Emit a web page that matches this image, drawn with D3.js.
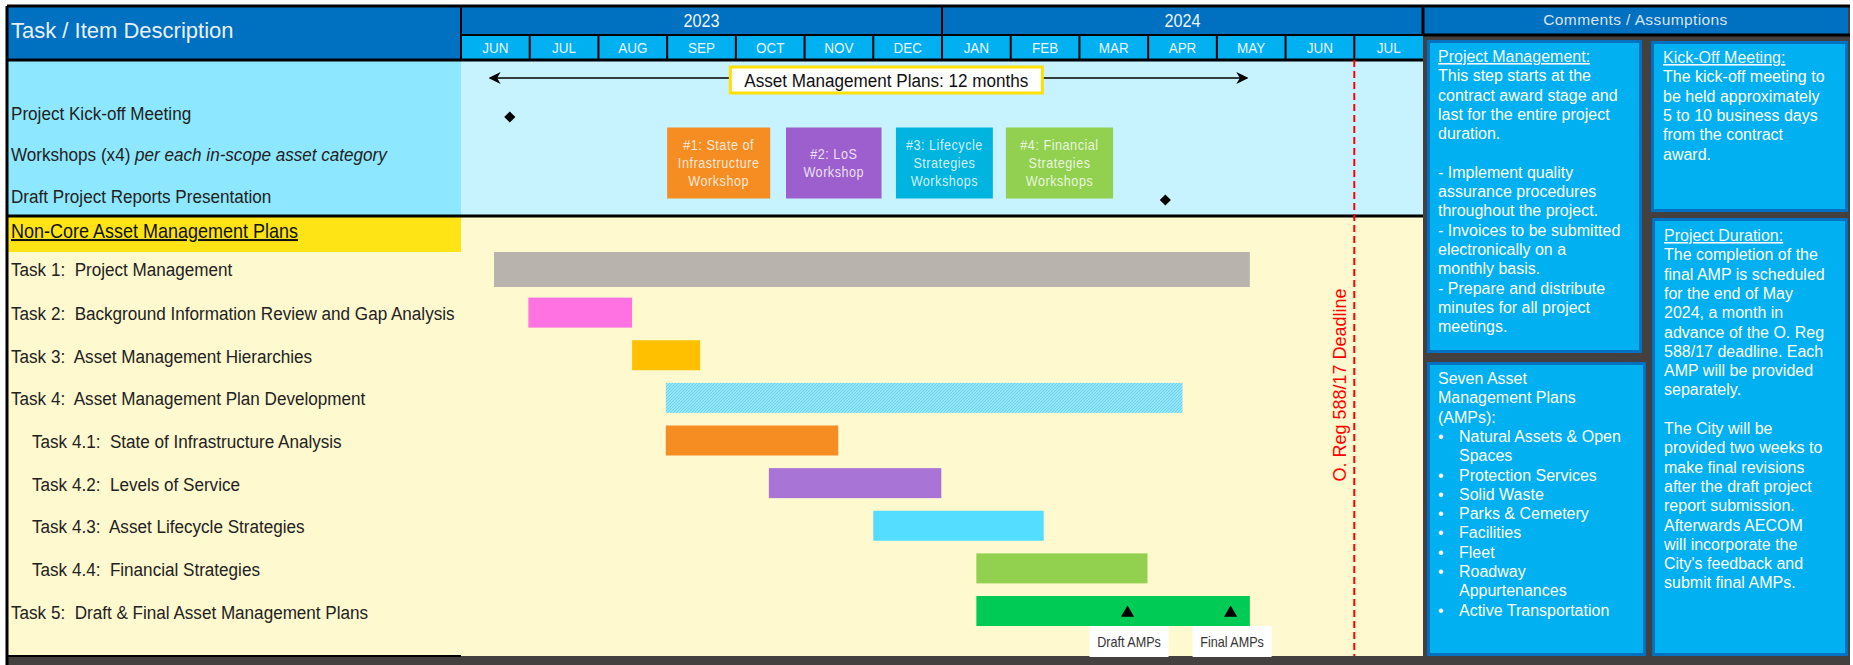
<!DOCTYPE html>
<html>
<head>
<meta charset="utf-8">
<script src="https://cdn.jsdelivr.net/npm/d3@7"></script>
<style>
body { margin: 0; background: #fff; }
svg { display: block; }
</style>
</head>
<body>
<svg id="chart" width="1853" height="665"></svg>
<script>
// months shown on the timeline (Jun 2023 .. Jul 2024)
var months = ["JUN","JUL","AUG","SEP","OCT","NOV","DEC","JAN","FEB","MAR","APR","MAY","JUN","JUL"]
var years = ["2023","2024"]
var yearMonths = [7, 7]

// milestone section (values in months from start of Jun 2023)
var milestoneRows = ["Project Kick-off Meeting", "Workshops (x4)", "Draft Project Reports Presentation"]
var kickoffAt = 0.71
var presentationAt = 10.25
var planStart = 0.42
var planEnd = 11.44
var planLabel = "Asset Management Plans: 12 months"
var workshopLabels = [["#1: State of","Infrastructure","Workshop"], ["#2: LoS","Workshop"], ["#3: Lifecycle","Strategies","Workshops"], ["#4: Financial","Strategies","Workshops"]]
var workshopStart = [3.0, 4.73, 6.33, 7.93]
var workshopEnd = [4.5, 6.12, 7.74, 9.49]
var workshopColors = ["#F68D22", "#9C5FCD", "#00B4E0", "#92D050"]

// tasks
var tasks = ["Task 1:  Project Management",
    "Task 2:  Background Information Review and Gap Analysis",
    "Task 3:  Asset Management Hierarchies",
    "Task 4:  Asset Management Plan Development",
    "Task 4.1:  State of Infrastructure Analysis",
    "Task 4.2:  Levels of Service",
    "Task 4.3:  Asset Lifecycle Strategies",
    "Task 4.4:  Financial Strategies",
    "Task 5:  Draft & Final Asset Management Plans"]
var taskIndent = [0, 0, 0, 0, 1, 1, 1, 1, 0]
var taskStart = [0.48, 0.98, 2.49, 2.98, 2.98, 4.48, 6.0, 7.5, 7.5]
var taskEnd = [11.48, 2.49, 3.48, 10.5, 5.49, 6.99, 8.48, 9.99, 11.48]
var taskColors = ["#B8B3AD", "#FF72E1", "#FFC000", "url(#hatch)", "#F68D22", "#A875D6", "#54DDFF", "#92D050", "#00CC55"]

var deliverables = ["Draft AMPs", "Final AMPs"]
var deliverableAt = [9.7, 11.2]
var deadlineAt = 13.0
var deadlineLabel = "O. Reg 588/17 Deadline"

var sans = "'Liberation Sans', Arial, sans-serif"
var squeeze = 0.9  // no narrow font available, so squash the label text a bit

var svg = d3.select("#chart")
var left = 7, x0 = 461, x1 = 1423, topY = 6
var yearBottom = 35, headBottom = 60, msBottom = 216, secBottom = 252, bottom = 656

var x = d3.scaleLinear().domain([0, months.length]).range([x0, x1])
var mx = d3.scaleBand().domain(d3.range(months.length)).range([x0, x1])
var msY = d3.scalePoint().domain(milestoneRows).range([113, 196])
var ty = d3.scalePoint().domain(tasks).range([270, 611])

// text squashed horizontally around its anchor point
function narrowText(parent, px, py) {
    return parent.append("g").attr("transform", "translate(" + px + "," + py + ") scale(" + squeeze + ",1)")
        .append("text").attr("font-family", sans)
}

var defs = svg.append("defs")
var pat = defs.append("pattern").attr("id", "hatch").attr("width", 3).attr("height", 3).attr("patternUnits", "userSpaceOnUse")
pat.append("rect").attr("width", 3).attr("height", 3).attr("fill", "#ABECFB")
pat.append("path").attr("d", "M-1,1 L1,-1 M0,3 L3,0 M2,4 L4,2").attr("stroke", "#62D2F3").attr("stroke-width", 1.1)

// ---- backgrounds
svg.append("rect").attr("x", left).attr("y", topY).attr("width", x0 - left).attr("height", headBottom - topY).attr("fill", "#0070C0")
svg.append("rect").attr("x", x0).attr("y", topY).attr("width", x1 - x0).attr("height", yearBottom - topY).attr("fill", "#0070C0")
svg.append("rect").attr("x", x0).attr("y", yearBottom).attr("width", x1 - x0).attr("height", headBottom - yearBottom).attr("fill", "#00B0F0")
svg.append("rect").attr("x", left).attr("y", headBottom).attr("width", x0 - left).attr("height", msBottom - headBottom).attr("fill", "#8DE8FF")
svg.append("rect").attr("x", x0).attr("y", headBottom).attr("width", x1 - x0).attr("height", msBottom - headBottom).attr("fill", "#C7F2FF")
svg.append("rect").attr("x", left).attr("y", msBottom).attr("width", x1 - left).attr("height", bottom - msBottom).attr("fill", "#FFF9CF")
svg.append("rect").attr("x", left).attr("y", msBottom).attr("width", x0 - left).attr("height", secBottom - msBottom).attr("fill", "#FFE415")
// right comments panel
svg.append("rect").attr("x", x1).attr("y", topY).attr("width", 1850 - x1).attr("height", 665 - topY).attr("fill", "#454040")
svg.append("rect").attr("x", x1).attr("y", topY).attr("width", 1848 - x1).attr("height", 34 - topY).attr("fill", "#0070C0")
svg.append("rect").attr("x", left).attr("y", bottom).attr("width", 1850 - left).attr("height", 665 - bottom).attr("fill", "#454040")

// ---- header
svg.append("text").attr("x", 11).attr("y", 38).attr("font-family", sans).attr("font-size", 22)
    .attr("fill", "#E8F0FA").text("Task / Item Description")

var yearStart = [0]
yearMonths.forEach(function (m, i) { yearStart.push(yearStart[i] + m) })
years.forEach(function (yr, i) {
    narrowText(svg, x(yearStart[i] + yearMonths[i] / 2), 27).attr("text-anchor", "middle")
        .attr("font-size", 18).attr("fill", "#F0F6FF").text(yr)
})
svg.selectAll(".ydiv").data(yearStart.slice(1, -1)).enter().append("line")
    .attr("x1", function (d) { return x(d) }).attr("x2", function (d) { return x(d) })
    .attr("y1", topY).attr("y2", yearBottom).attr("stroke", "#000").attr("stroke-width", 2)

months.forEach(function (m, i) {
    narrowText(svg, mx(i) + mx.bandwidth() / 2, 53).attr("text-anchor", "middle")
        .attr("font-size", 15).attr("fill", "#E8F4FF").text(m)
})
svg.selectAll(".mdiv").data(d3.range(1, months.length)).enter().append("line")
    .attr("x1", function (d) { return x(d) }).attr("x2", function (d) { return x(d) })
    .attr("y1", yearBottom).attr("y2", headBottom).attr("stroke", "#000").attr("stroke-width", 2)

// header lines
svg.append("line").attr("x1", x0).attr("x2", x1).attr("y1", yearBottom).attr("y2", yearBottom).attr("stroke", "#000").attr("stroke-width", 2)
svg.append("line").attr("x1", left).attr("x2", x1).attr("y1", headBottom).attr("y2", headBottom).attr("stroke", "#000").attr("stroke-width", 3)
svg.append("line").attr("x1", left).attr("x2", x1).attr("y1", msBottom).attr("y2", msBottom).attr("stroke", "#000").attr("stroke-width", 3)
svg.append("line").attr("x1", x0).attr("x2", x0).attr("y1", topY).attr("y2", headBottom).attr("stroke", "#000").attr("stroke-width", 2)
svg.append("line").attr("x1", x1).attr("x2", x1).attr("y1", topY).attr("y2", 36).attr("stroke", "#000").attr("stroke-width", 3)
svg.append("line").attr("x1", left).attr("x2", 1850).attr("y1", topY).attr("y2", topY).attr("stroke", "#000").attr("stroke-width", 3)
svg.append("line").attr("x1", x1).attr("x2", 1850).attr("y1", 35).attr("y2", 35).attr("stroke", "#000").attr("stroke-width", 3)
svg.append("line").attr("x1", left).attr("x2", left).attr("y1", topY).attr("y2", 665).attr("stroke", "#000").attr("stroke-width", 3)
svg.append("line").attr("x1", left).attr("x2", x0).attr("y1", bottom).attr("y2", bottom).attr("stroke", "#000").attr("stroke-width", 2)

// ---- milestone section
milestoneRows.forEach(function (d, i) {
    var t = narrowText(svg, 11, msY(d) + 6.5).attr("font-size", 19).attr("fill", "#222")
    t.append("tspan").text(d)
    if (i === 1) t.append("tspan").attr("font-style", "italic").text(" per each in-scope asset category")
})

// plan duration arrow
defs.append("marker").attr("id", "ah").attr("viewBox", "0 0 10 10").attr("refX", 9).attr("refY", 5)
    .attr("markerWidth", 12).attr("markerHeight", 12).attr("markerUnits", "userSpaceOnUse").attr("orient", "auto-start-reverse")
    .append("path").attr("d", "M0,0 L10,5 L0,10 L3,5 Z").attr("fill", "#000")
svg.append("line").attr("x1", x(planStart)).attr("x2", x(planEnd)).attr("y1", 78).attr("y2", 78)
    .attr("stroke", "#000").attr("stroke-width", 1.5)
    .attr("marker-start", "url(#ah)").attr("marker-end", "url(#ah)")
svg.append("rect").attr("x", x(6.19) - 156).attr("y", 67).attr("width", 312).attr("height", 26)
    .attr("fill", "#fff").attr("stroke", "#FFE000").attr("stroke-width", 3)
narrowText(svg, x(6.19), 86.5).attr("text-anchor", "middle").attr("font-size", 19).attr("fill", "#111").text(planLabel)

var diamond = d3.symbol(d3.symbolSquare, 62)()
svg.append("path").attr("d", diamond)
    .attr("transform", "translate(" + x(kickoffAt) + "," + (msY(milestoneRows[0]) + 4) + ") rotate(45)").attr("fill", "#000")
svg.append("path").attr("d", diamond)
    .attr("transform", "translate(" + x(presentationAt) + "," + (msY(milestoneRows[2]) + 4) + ") rotate(45)").attr("fill", "#000")

var wy = msY(milestoneRows[1])
workshopLabels.forEach(function (lines, i) {
    svg.append("rect").attr("x", x(workshopStart[i])).attr("width", x(workshopEnd[i]) - x(workshopStart[i]))
        .attr("y", wy - 27).attr("height", 71).attr("fill", workshopColors[i])
    var t = narrowText(svg, (x(workshopStart[i]) + x(workshopEnd[i])) / 2, 0)
        .attr("text-anchor", "middle").attr("font-size", 14).attr("letter-spacing", 0.6)
        .attr("fill", "#fff").attr("fill-opacity", 0.82)
    var y0 = wy + 13.5 - (lines.length - 1) * 9
    lines.forEach(function (line, j) {
        t.append("tspan").attr("x", 0).attr("y", y0 + j * 18).text(line)
    })
})

// ---- task section
narrowText(svg, 11, 238).attr("font-size", 20).attr("fill", "#111")
    .attr("text-decoration", "underline").text("Non-Core Asset Management Plans")

tasks.forEach(function (d, i) {
    narrowText(svg, 11 + taskIndent[i] * 21, ty(d) + (i === 0 ? 5.5 : 7.5)).attr("font-size", 19).attr("fill", "#222")
        .attr("xml:space", "preserve").text(d)
})

svg.selectAll(".bar").data(tasks).enter().append("rect")
    .attr("x", function (d, i) { return x(taskStart[i]) })
    .attr("width", function (d, i) { return x(taskEnd[i]) - x(taskStart[i]) })
    .attr("y", function (d, i) { return ty(d) - (i === 0 ? 18 : 15) })
    .attr("height", function (d, i) { return i === 0 ? 35 : 30 })
    .attr("fill", function (d, i) { return taskColors[i] })

// deliverable markers on task 5
var t5 = ty(tasks[tasks.length - 1])
svg.selectAll(".tri").data(deliverableAt).enter().append("path")
    .attr("d", d3.symbol(d3.symbolTriangle, 75)())
    .attr("transform", function (d) { return "translate(" + x(d) + "," + (t5 + 2) + ")" })
    .attr("fill", "#000")
deliverables.forEach(function (d, i) {
    svg.append("rect").attr("x", x(deliverableAt[i]) - 38).attr("y", t5 + 15)
        .attr("width", 79).attr("height", 31).attr("fill", "#fff")
    narrowText(svg, x(deliverableAt[i]) + 1.5, t5 + 36).attr("text-anchor", "middle")
        .attr("font-size", 14).attr("fill", "#333").text(d)
})

// deadline
svg.append("line").attr("x1", x(deadlineAt)).attr("x2", x(deadlineAt)).attr("y1", headBottom).attr("y2", bottom)
    .attr("stroke", "#FF0000").attr("stroke-width", 2).attr("stroke-dasharray", "7,4")
svg.append("text").attr("transform", "translate(" + (x(deadlineAt) - 8) + ",385) rotate(-90)")
    .attr("text-anchor", "middle").attr("font-family", sans).attr("font-size", 18).attr("fill", "#FF0000")
    .text(deadlineLabel)

// ---- comments
svg.append("text").attr("x", (x1 + 1848) / 2).attr("y", 25).attr("text-anchor", "middle")
    .attr("font-family", sans).attr("font-size", 15.5).attr("letter-spacing", 0.4).attr("fill", "#D8E4F0").text("Comments / Assumptions")

var boxes = [
    {x: 1427, y: 40, w: 215, h: 313, tx: 1438, ty: 62, lines: ["Project Management:", "This step starts at the", "contract award stage and", "last for the entire project", "duration.", "", "- Implement quality", "assurance procedures", "throughout the project.", "- Invoices to be submitted", "electronically on a", "monthly basis.", "- Prepare and distribute", "minutes for all project", "meetings."]},
    {x: 1651, y: 41, w: 197, h: 171, tx: 1663, ty: 63, lines: ["Kick-Off Meeting:", "The kick-off meeting to", "be held approximately", "5 to 10 business days", "from the contract", "award."]},
    {x: 1427, y: 362, w: 219, h: 294, tx: 1438, ty: 384, lines: ["Seven Asset", "Management Plans", "(AMPs):", "•Natural Assets & Open", " Spaces", "•Protection Services", "•Solid Waste", "•Parks & Cemetery", "•Facilities", "•Fleet", "•Roadway", " Appurtenances", "•Active Transportation"]},
    {x: 1652, y: 218, w: 196, h: 438, tx: 1664, ty: 241, lines: ["Project Duration:", "The completion of the", "final AMP is scheduled", "for the end of May", "2024, a month in", "advance of the O. Reg", "588/17 deadline. Each", "AMP will be provided", "separately.", "", "The City will be", "provided two weeks to", "make final revisions", "after the draft project", "report submission.", "Afterwards AECOM", "will incorporate the", "City's feedback and", "submit final AMPs."]}
]
boxes.forEach(function (b, k) {
    svg.append("rect").attr("x", b.x + 1.5).attr("y", b.y + 1.5).attr("width", b.w - 3).attr("height", b.h - 3)
        .attr("fill", "#00B0F0").attr("stroke", "#0070C0").attr("stroke-width", 3)
    b.lines.forEach(function (line, j) {
        var yy = b.ty + j * 19.3
        if (line.charAt(0) === "•") {
            svg.append("text").attr("x", b.tx).attr("y", yy).attr("font-family", sans).attr("font-size", 16).attr("fill", "#fff").text("•")
            svg.append("text").attr("x", b.tx + 21).attr("y", yy).attr("font-family", sans).attr("font-size", 16).attr("fill", "#fff").text(line.slice(1))
        } else if (line.charAt(0) === " ") {
            svg.append("text").attr("x", b.tx + 21).attr("y", yy).attr("font-family", sans).attr("font-size", 16).attr("fill", "#fff").text(line.slice(1))
        } else {
            var t = svg.append("text").attr("x", b.tx).attr("y", yy).attr("font-family", sans).attr("font-size", 16).attr("fill", "#fff").text(line)
            if (j === 0 && k !== 2) t.attr("text-decoration", "underline").attr("fill", "#F2F8FF")
        }
    })
})
</script>
</body>
</html>
